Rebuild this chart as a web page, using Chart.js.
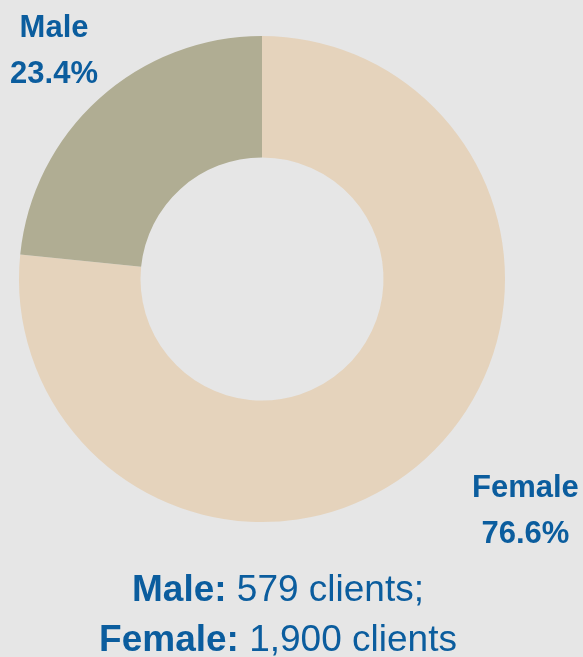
<!DOCTYPE html>
<html>
<head>
<meta charset="utf-8">
<script src="https://cdn.jsdelivr.net/npm/chart.js@4/dist/chart.umd.min.js"></script>
<style>
  html, body { margin: 0; padding: 0; background: #e6e6e6; }
  #wrap { position: relative; width: 583px; height: 657px; overflow: hidden; }
  #donut { position: absolute; left: 0; top: 0; }
  #note {
    position: absolute; left: 0; top: 564px; width: 556px;
    text-align: center; color: #0b5d9e;
    font-family: "Liberation Sans", Arial, sans-serif;
    font-size: 37px; line-height: 50px; white-space: nowrap;
  }
  #note b { font-weight: bold; }
</style>
</head>
<body>
<div id="wrap">
  <canvas id="donut" width="583" height="657"></canvas>
  <div id="note"></div>
</div>
<script>
// data
var genders = ["Female", "Male"];
var shares = [76.6, 23.4];
var clients = [1900, 579];
var colors = ["#e5d3bc", "#b0ad93"];
var labelAlign = ["left", "center"];

var textBlue = "#0b5d9e";

// bottom note: "Male: 579 clients;" / "Female: 1,900 clients"
var note = document.getElementById("note");
note.innerHTML =
  "<b>" + genders[1] + ":</b> " + clients[1].toLocaleString("en-US") + " clients;<br>" +
  "<b>" + genders[0] + ":</b> " + clients[0].toLocaleString("en-US") + " clients";

// draws "Name / xx.x%" outside each slice
var outsideLabels = {
  id: "outsideLabels",
  afterDraw: function (chart) {
    var ctx = chart.ctx;
    var arcs = chart.getDatasetMeta(0).data;
    ctx.save();
    ctx.font = "bold 31px 'Liberation Sans', Arial, sans-serif";
    ctx.fillStyle = textBlue;
    ctx.textAlign = "center";
    ctx.textBaseline = "alphabetic";
    arcs.forEach(function (arc, i) {
      var mid = (arc.startAngle + arc.endAngle) / 2;
      var r = arc.outerRadius * 1.276;
      var x = arc.x + Math.cos(mid) * r;
      var y = arc.y + Math.sin(mid) * r;
      var lines = [genders[i], shares[i].toFixed(1) + "%"];
      var w = Math.max(ctx.measureText(lines[0]).width, ctx.measureText(lines[1]).width);
      if (labelAlign[i] === "left") x += w / 2 + 2;
      ctx.fillText(lines[0], x, y - 12);
      ctx.fillText(lines[1], x, y + 34);
    });
    ctx.restore();
  }
};

var myChart = document.getElementById("donut").getContext("2d");
var donut = new Chart(myChart, {
  type: "doughnut",
  data: {
    labels: genders,
    datasets: [
      {
        data: shares,
        backgroundColor: colors,
        borderWidth: 0,
      },
    ],
  },
  options: {
    responsive: false,
    animation: false,
    cutout: "50%",
    layout: { padding: { left: 19, top: 36, right: 78, bottom: 135 } },
    plugins: {
      legend: { display: false },
      tooltip: { enabled: false },
    },
  },
  plugins: [outsideLabels],
});
</script>
</body>
</html>
